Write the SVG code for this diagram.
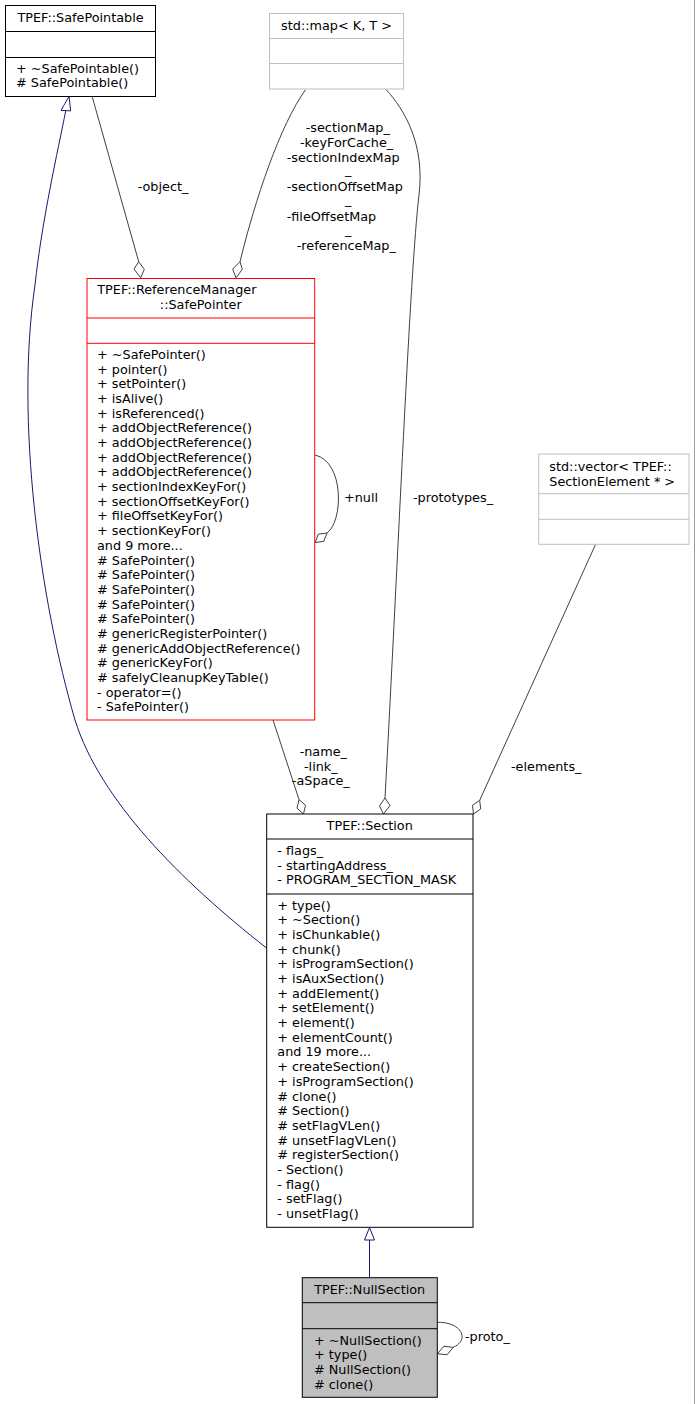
<svg xmlns="http://www.w3.org/2000/svg" width="695" height="1404" viewBox="0 0 695 1404">
<style>
text{font-family:"DejaVu Sans","Liberation Sans",sans-serif;font-size:12.8px;fill:#000}
.c{text-anchor:middle}
.box{fill:#fff;stroke:#000;stroke-width:1}
.red{fill:#fff;stroke:#ff0000;stroke-width:1}
.grey{fill:#fff;stroke:#bfbfbf;stroke-width:1}
.gfill{fill:#bfbfbf;stroke:#000;stroke-width:1}
.e{fill:none;stroke:#404040;stroke-width:1}
.ed{fill:#fff;stroke:#404040;stroke-width:1}
.inh{fill:none;stroke:#191970;stroke-width:1}
.inhh{fill:#fff;stroke:#191970;stroke-width:1}
</style>
<rect x="0" y="0" width="695" height="1404" fill="#fff"/>
<line x1="694.5" y1="0" x2="694.5" y2="1404" stroke="#a0a0a0" stroke-width="1"/>

<g id="connectors">
  <!-- Section -> SafePointable inheritance -->
  <path class="inh" d="M266.5,948 C180,880 100,800 75,720 C40,600 15,420 35,285 C42,220 58,150 65.7,111"/>
  <polygon class="inhh" points="69,96.5 61,110.3 70.7,110.9"/>
  <!-- Section -> NullSection inheritance -->
  <line class="inh" x1="369.5" y1="1277.5" x2="369.5" y2="1240"/>
  <polygon class="inhh" points="369.5,1227.5 364.5,1240 374.5,1240"/>
  <!-- -object_ -->
  <path class="e" d="M92.3,97 L138.7,261.7"/>
  <polygon class="ed" points="138.7,261.7 134,269 140.7,277.8 144.3,269.3"/>
  <text x="137.7" y="191">-object_</text>
  <!-- map -> SafePointer -->
  <path class="e" d="M305.7,89.5 C280,125 255,200 240,261.7"/>
  <polygon class="ed" points="240,261.7 232.7,269 236,277.8 242.3,269.3"/>
  <text x="305.7" y="132">-sectionMap_</text>
  <text x="300" y="147">-keyForCache_</text>
  <text x="286.7" y="161.5">-sectionIndexMap</text>
  <text x="345" y="174">_</text>
  <text x="286.7" y="191">-sectionOffsetMap</text>
  <text x="345" y="203.5">_</text>
  <text x="286.7" y="220.5">-fileOffsetMap</text>
  <text x="345" y="233.5">_</text>
  <text x="296.7" y="249.5">-referenceMap_</text>
  <!-- map -> Section prototypes -->
  <path class="e" d="M386,89.5 C405,110 425,145 419,195 C410,270 398,560 385,798"/>
  <polygon class="ed" points="385,798 379.5,806 383.5,814 390,805.5"/>
  <text x="413" y="502">-prototypes_</text>
  <!-- +null self loop -->
  <path class="e" d="M315,455 C345,462 343,522 327,533"/>
  <polygon class="ed" points="327,533 318.2,534.2 315.3,542.5 323.8,541.3"/>
  <text x="344" y="502">+null</text>
  <!-- SafePointer -> Section -->
  <path class="e" d="M273,720 L299,799.5"/>
  <polygon class="ed" points="299,799.5 297,808.2 303.5,814 305.5,805.3"/>
  <text class="c" x="323.3" y="756">-name_</text>
  <text class="c" x="320.8" y="770.5">-link_</text>
  <text class="c" x="320.8" y="785">-aSpace_</text>
  <!-- vector -> Section -->
  <path class="e" d="M595.5,544.5 L479.7,800.3"/>
  <polygon class="ed" points="479.7,800.3 472.5,805.3 473.5,814 480.7,809"/>
  <text x="511" y="770.7">-elements_</text>
  <!-- NullSection self loop -->
  <path class="e" d="M437.5,1322.3 C462,1322 470,1340 453.3,1347.3"/>
  <polygon class="ed" points="453.3,1347.3 443.7,1346.3 437.5,1353.8 447.1,1354.7"/>
  <text x="465" y="1341">-proto_</text>
</g>

<g id="SafePointable">
  <rect class="box" x="5.5" y="5.5" width="150" height="91"/>
  <line x1="5.5" y1="31.5" x2="155.5" y2="31.5" stroke="#000"/>
  <line x1="5.5" y1="57.5" x2="155.5" y2="57.5" stroke="#000"/>
  <text class="c" x="80.5" y="21.5">TPEF::SafePointable</text>
  <text x="16" y="72.5">+ ~SafePointable()</text>
  <text x="16" y="87.2"># SafePointable()</text>
</g>

<g id="stdmap">
  <rect class="grey" x="269.5" y="13.5" width="134" height="75.5"/>
  <line x1="269.5" y1="38.5" x2="403.5" y2="38.5" stroke="#bfbfbf"/>
  <line x1="269.5" y1="63.5" x2="403.5" y2="63.5" stroke="#bfbfbf"/>
  <text class="c" x="336.5" y="29.5">std::map&lt; K, T &gt;</text>
</g>

<g id="SafePointer">
  <rect class="red" x="87" y="278.5" width="227.7" height="441.5"/>
  <line x1="87" y1="318" x2="314.7" y2="318" stroke="#ff0000"/>
  <line x1="87" y1="343.3" x2="314.7" y2="343.3" stroke="#ff0000"/>
  <text x="97.3" y="294.2">TPEF::ReferenceManager</text>
  <text class="c" x="200.8" y="308.7">::SafePointer</text>
  <text x="97" y="358.8">+ ~SafePointer()</text>
  <text x="97" y="373.5">+ pointer()</text>
  <text x="97" y="388.2">+ setPointer()</text>
  <text x="97" y="402.9">+ isAlive()</text>
  <text x="97" y="417.6">+ isReferenced()</text>
  <text x="97" y="432.3">+ addObjectReference()</text>
  <text x="97" y="446.9">+ addObjectReference()</text>
  <text x="97" y="461.6">+ addObjectReference()</text>
  <text x="97" y="476.3">+ addObjectReference()</text>
  <text x="97" y="491">+ sectionIndexKeyFor()</text>
  <text x="97" y="505.7">+ sectionOffsetKeyFor()</text>
  <text x="97" y="520.4">+ fileOffsetKeyFor()</text>
  <text x="97" y="535.1">+ sectionKeyFor()</text>
  <text x="97" y="549.8">and 9 more...</text>
  <text x="97" y="564.5"># SafePointer()</text>
  <text x="97" y="579.2"># SafePointer()</text>
  <text x="97" y="593.8"># SafePointer()</text>
  <text x="97" y="608.5"># SafePointer()</text>
  <text x="97" y="623.2"># SafePointer()</text>
  <text x="97" y="637.9"># genericRegisterPointer()</text>
  <text x="97" y="652.6"># genericAddObjectReference()</text>
  <text x="97" y="667.3"># genericKeyFor()</text>
  <text x="97" y="682"># safelyCleanupKeyTable()</text>
  <text x="97" y="696.7">- operator=()</text>
  <text x="97" y="711.4">- SafePointer()</text>
</g>

<g id="stdvector">
  <rect class="grey" x="538.7" y="454" width="150.3" height="90.3"/>
  <line x1="538.7" y1="493.7" x2="689" y2="493.7" stroke="#bfbfbf"/>
  <line x1="538.7" y1="519.3" x2="689" y2="519.3" stroke="#bfbfbf"/>
  <text x="549.3" y="471">std::vector&lt; TPEF::</text>
  <text x="549.3" y="485.5">SectionElement * &gt;</text>
</g>

<g id="Section">
  <rect class="box" x="266.7" y="814" width="206.3" height="413.3"/>
  <line x1="266.7" y1="839" x2="473" y2="839" stroke="#000"/>
  <line x1="266.7" y1="894" x2="473" y2="894" stroke="#000"/>
  <text class="c" x="369.7" y="830">TPEF::Section</text>
  <text x="277.3" y="855">- flags_</text>
  <text x="277.3" y="869.7">- startingAddress_</text>
  <text x="277.3" y="884.4">- PROGRAM_SECTION_MASK</text>
  <text x="277.3" y="909.5">+ type()</text>
  <text x="277.3" y="924.2">+ ~Section()</text>
  <text x="277.3" y="938.9">+ isChunkable()</text>
  <text x="277.3" y="953.6">+ chunk()</text>
  <text x="277.3" y="968.3">+ isProgramSection()</text>
  <text x="277.3" y="982.9">+ isAuxSection()</text>
  <text x="277.3" y="997.6">+ addElement()</text>
  <text x="277.3" y="1012.3">+ setElement()</text>
  <text x="277.3" y="1027">+ element()</text>
  <text x="277.3" y="1041.7">+ elementCount()</text>
  <text x="277.3" y="1056.4">and 19 more...</text>
  <text x="277.3" y="1071.1">+ createSection()</text>
  <text x="277.3" y="1085.8">+ isProgramSection()</text>
  <text x="277.3" y="1100.5"># clone()</text>
  <text x="277.3" y="1115.2"># Section()</text>
  <text x="277.3" y="1129.9"># setFlagVLen()</text>
  <text x="277.3" y="1144.5"># unsetFlagVLen()</text>
  <text x="277.3" y="1159.2"># registerSection()</text>
  <text x="277.3" y="1173.9">- Section()</text>
  <text x="277.3" y="1188.6">- flag()</text>
  <text x="277.3" y="1203.3">- setFlag()</text>
  <text x="277.3" y="1218">- unsetFlag()</text>
</g>

<g id="NullSection">
  <rect class="gfill" x="302.3" y="1277.7" width="135" height="119.6"/>
  <line x1="302.3" y1="1302.7" x2="437.3" y2="1302.7" stroke="#000"/>
  <line x1="302.3" y1="1328.7" x2="437.3" y2="1328.7" stroke="#000"/>
  <text class="c" x="369.7" y="1293.5">TPEF::NullSection</text>
  <text x="314" y="1344.5">+ ~NullSection()</text>
  <text x="314" y="1359.2">+ type()</text>
  <text x="314" y="1373.9"># NullSection()</text>
  <text x="314" y="1388.6"># clone()</text>
</g>
</svg>
